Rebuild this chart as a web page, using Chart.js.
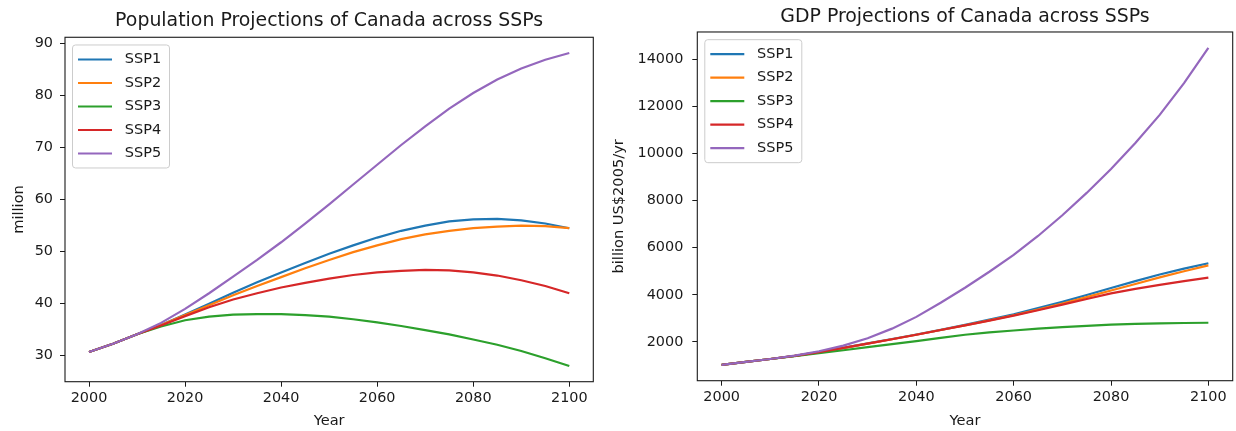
<!DOCTYPE html>
<html>
<head>
<meta charset="utf-8">
<title>Canada SSP projections</title>
<script src="https://cdn.jsdelivr.net/npm/chart.js@4.4.0/dist/chart.umd.min.js"></script>
<style>
  html, body { margin: 0; padding: 0; background: #ffffff; }
  body { width: 1236px; height: 431px; position: relative; overflow: hidden; }
  canvas { position: absolute; top: 0; }
  #popChart { left: 0; }
  #gdpChart { left: 610px; }
</style>
</head>
<body>
<canvas id="popChart" width="610" height="431"></canvas>
<canvas id="gdpChart" width="626" height="431"></canvas>
<script>
// Years of the projections (5-year steps)
const years = [2000, 2005, 2010, 2015, 2020, 2025, 2030, 2035, 2040, 2045, 2050,
               2055, 2060, 2065, 2070, 2075, 2080, 2085, 2090, 2095, 2100];
const scenarios = ['SSP1', 'SSP2', 'SSP3', 'SSP4', 'SSP5'];

// Population, million
const popSSP1 = [30.7, 32.3, 34.1, 35.9, 37.9, 40.0, 42.1, 44.1, 46.0, 47.8, 49.6,
                 51.2, 52.7, 54.0, 55.0, 55.8, 56.2, 56.3, 56.0, 55.4, 54.5];
const popSSP2 = [30.7, 32.3, 34.1, 35.9, 37.8, 39.7, 41.6, 43.4, 45.1, 46.8, 48.4,
                 49.9, 51.2, 52.4, 53.3, 54.0, 54.5, 54.8, 55.0, 54.9, 54.5];
const popSSP3 = [30.7, 32.3, 34.1, 35.6, 36.8, 37.5, 37.9, 38.0, 38.0, 37.8, 37.5,
                 37.0, 36.4, 35.7, 34.9, 34.1, 33.1, 32.1, 30.9, 29.5, 28.0];
const popSSP4 = [30.7, 32.3, 34.1, 35.8, 37.6, 39.3, 40.8, 42.0, 43.1, 44.0, 44.8,
                 45.5, 46.0, 46.3, 46.5, 46.4, 46.0, 45.4, 44.5, 43.4, 42.0];
const popSSP5 = [30.7, 32.3, 34.1, 36.3, 39.0, 42.0, 45.2, 48.4, 51.8, 55.4, 59.1,
                 62.9, 66.7, 70.5, 74.1, 77.5, 80.5, 83.1, 85.2, 86.9, 88.2];

// GDP, billion US$2005/yr
const gdpSSP1 = [1020, 1150, 1270, 1400, 1560, 1740, 1930, 2120, 2310, 2510, 2720,
                 2940, 3170, 3430, 3700, 3990, 4290, 4580, 4860, 5110, 5340];
const gdpSSP2 = [1020, 1150, 1270, 1400, 1550, 1730, 1920, 2110, 2300, 2500, 2700,
                 2910, 3130, 3370, 3630, 3900, 4180, 4460, 4740, 5000, 5250];
const gdpSSP3 = [1020, 1150, 1270, 1390, 1520, 1640, 1770, 1900, 2030, 2170, 2300,
                 2400, 2480, 2560, 2620, 2680, 2730, 2760, 2780, 2800, 2810];
const gdpSSP4 = [1020, 1150, 1270, 1400, 1560, 1740, 1920, 2110, 2300, 2500, 2700,
                 2900, 3110, 3340, 3580, 3820, 4060, 4250, 4420, 4580, 4730];
const gdpSSP5 = [1020, 1150, 1270, 1410, 1600, 1840, 2150, 2560, 3060, 3660, 4300,
                 4980, 5700, 6500, 7380, 8330, 9350, 10450, 11650, 13000, 14500];

// Tick values
const yearTicks = [2000, 2020, 2040, 2060, 2080, 2100];
const popTicks = [30, 40, 50, 60, 70, 80, 90];
const gdpTicks = [2000, 4000, 6000, 8000, 10000, 12000, 14000];

const colors = ['#1f77b4', '#ff7f0e', '#2ca02c', '#d62728', '#9467bd'];
const inkColor = '#1a1a1a';
const fontFamily = '"DejaVu Sans", sans-serif';

Chart.defaults.font.family = fontFamily;
Chart.defaults.color = inkColor;

// 5% padding around the data range on both axes
function paddedRange(values) {
  const lo = Math.min(...values), hi = Math.max(...values);
  const pad = (hi - lo) * 0.05;
  return [lo - pad, hi + pad];
}

// Axes frame plus an upper-left legend box inside the plot area
const frameAndLegend = {
  id: 'frameAndLegend',
  afterDatasetsDraw(chart) {
    const { ctx, chartArea: a } = chart;
    ctx.save();
    ctx.strokeStyle = inkColor;
    ctx.lineWidth = 1.1;
    ctx.strokeRect(a.left, a.top, a.right - a.left, a.bottom - a.top);

    const x0 = a.left + 7.5, y0 = a.top + 7.7, w = 97, h = 123, r = 3;
    ctx.beginPath();
    ctx.moveTo(x0 + r, y0);
    ctx.arcTo(x0 + w, y0, x0 + w, y0 + h, r);
    ctx.arcTo(x0 + w, y0 + h, x0, y0 + h, r);
    ctx.arcTo(x0, y0 + h, x0, y0, r);
    ctx.arcTo(x0, y0, x0 + w, y0, r);
    ctx.closePath();
    ctx.fillStyle = 'rgba(255,255,255,0.8)';
    ctx.fill();
    ctx.strokeStyle = '#cccccc';
    ctx.lineWidth = 1;
    ctx.stroke();

    ctx.font = '14.5px ' + fontFamily;
    ctx.textBaseline = 'middle';
    ctx.textAlign = 'left';
    chart.data.datasets.forEach((ds, i) => {
      const cy = y0 + 14.5 + i * 23.5;
      ctx.beginPath();
      ctx.strokeStyle = ds.borderColor;
      ctx.lineWidth = 2.2;
      ctx.moveTo(x0 + 5.5, cy);
      ctx.lineTo(x0 + 39.5, cy);
      ctx.stroke();
      ctx.fillStyle = inkColor;
      ctx.fillText(ds.label, x0 + 52.3, cy);
    });
    ctx.restore();
  }
};

function makeChart(canvasId, spec) {
  const allValues = spec.series.flat();
  const [yMin, yMax] = paddedRange(allValues);
  const [xMin, xMax] = paddedRange(years);
  const datasets = spec.series.map((vals, i) => ({
    label: scenarios[i],
    data: years.map((yr, k) => ({ x: yr, y: vals[k] })),
    borderColor: colors[i],
    backgroundColor: colors[i],
    borderWidth: 2.2,
    pointRadius: 0,
    tension: 0,
    order: spec.series.length - i
  }));
  const tickStyle = {
    display: true,
    drawOnChartArea: false,
    drawTicks: true,
    tickLength: 5,
    color: inkColor,
    lineWidth: 1
  };
  return new Chart(document.getElementById(canvasId), {
    type: 'line',
    data: { datasets },
    options: {
      responsive: false,
      animation: false,
      devicePixelRatio: 1,
      layout: { padding: { left: 0, right: spec.padRight, top: 0, bottom: 0 } },
      plugins: {
        legend: { display: false },
        tooltip: { enabled: false },
        title: {
          display: true,
          text: spec.title,
          fullSize: false,
          color: inkColor,
          font: { size: 18.9, weight: 'normal', lineHeight: 1.2 },
          padding: spec.titlePad
        }
      },
      scales: {
        x: {
          type: 'linear',
          min: xMin,
          max: xMax,
          afterBuildTicks: s => { s.ticks = yearTicks.map(v => ({ value: v })); },
          afterFit: s => { s.height = spec.xAxisHeight; },
          grid: tickStyle,
          border: { display: false },
          ticks: { padding: 3, font: { size: 14.4 }, color: inkColor,
                   callback: v => String(v), maxRotation: 0 },
          title: { display: true, text: 'Year', font: { size: 14.6 }, color: inkColor,
                   padding: { top: 0, bottom: 1 } }
        },
        y: {
          type: 'linear',
          min: yMin,
          max: yMax,
          afterBuildTicks: s => { s.ticks = spec.yTicks.map(v => ({ value: v })); },
          afterFit: s => { s.width = spec.yAxisWidth; },
          grid: tickStyle,
          border: { display: false },
          ticks: { padding: spec.yTickPad, font: { size: 14.4 }, color: inkColor,
                   callback: v => String(v) },
          title: { display: true, text: spec.yLabel, font: { size: 14.6 }, color: inkColor,
                   padding: { top: spec.yTitlePad, bottom: 0 } }
        }
      }
    },
    plugins: [frameAndLegend]
  });
}

makeChart('popChart', {
  title: 'Population Projections of Canada across SSPs',
  yLabel: 'million',
  series: [popSSP1, popSSP2, popSSP3, popSSP4, popSSP5],
  yTicks: popTicks,
  padRight: 16.7,
  yAxisWidth: 65,
  xAxisHeight: 49.3,
  titlePad: { top: 9.6, bottom: 5 },
  yTickPad: 7,
  yTitlePad: 10
});

makeChart('gdpChart', {
  title: 'GDP Projections of Canada across SSPs',
  yLabel: 'billion US$2005/yr',
  series: [gdpSSP1, gdpSSP2, gdpSSP3, gdpSSP4, gdpSSP5],
  yTicks: gdpTicks,
  padRight: 3.3,
  yAxisWidth: 87.3,
  xAxisHeight: 50.3,
  titlePad: { top: 5.4, bottom: 3.9 },
  yTickPad: 9,
  yTitlePad: 0
});
</script>
</body>
</html>
